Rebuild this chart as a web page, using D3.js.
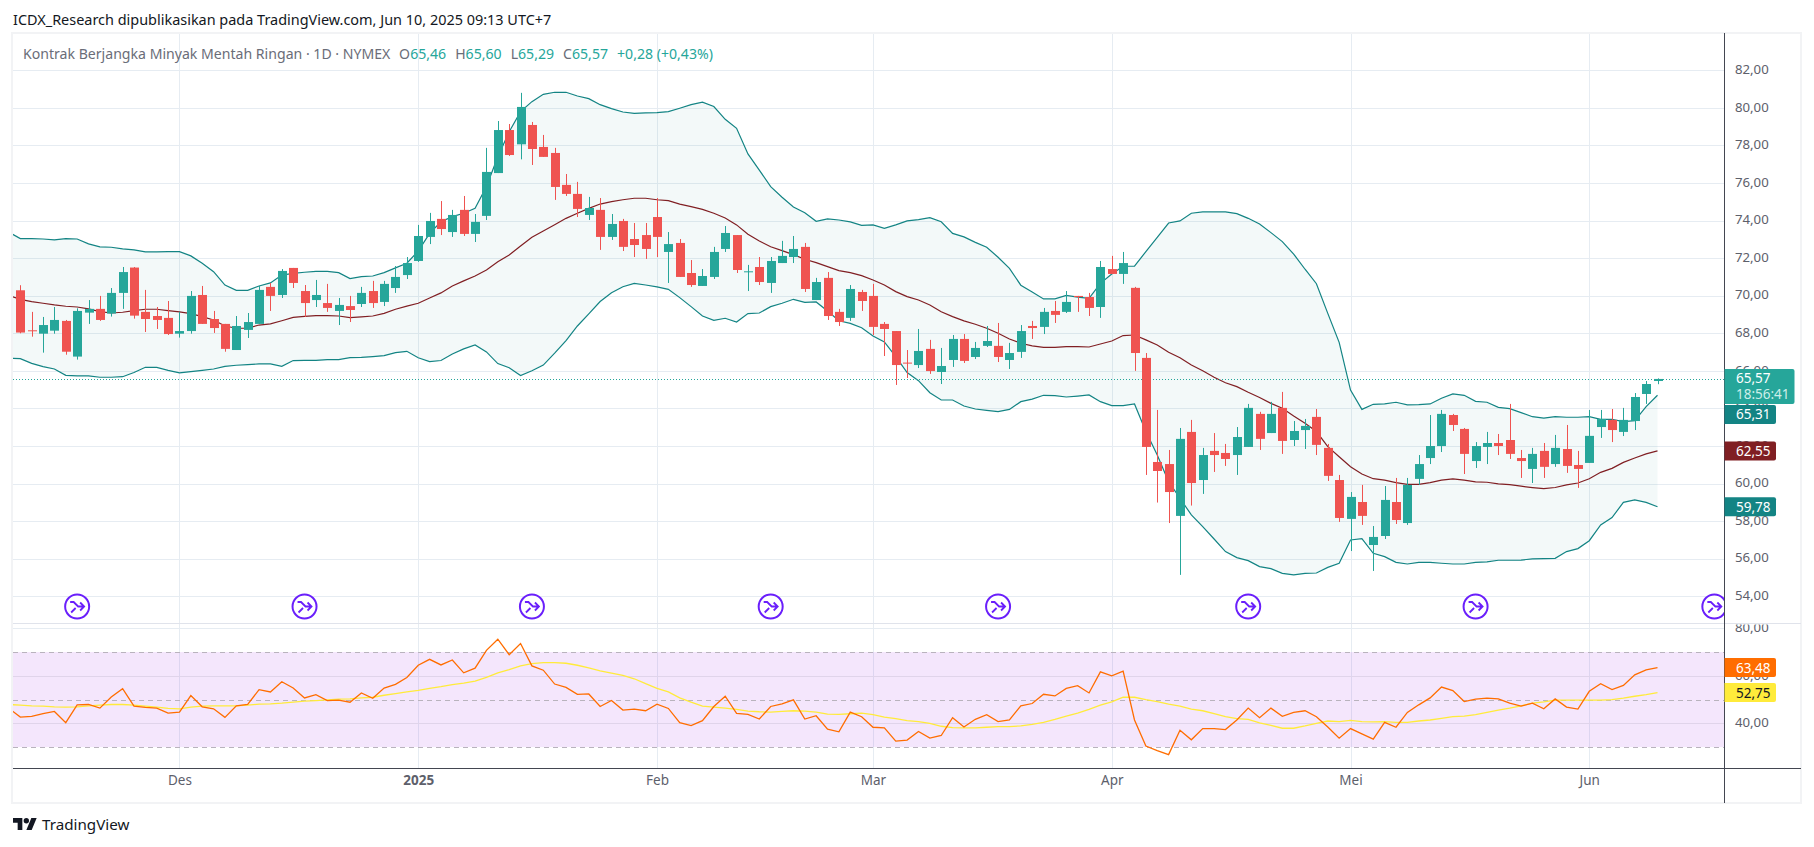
<!DOCTYPE html>
<html>
<head>
<meta charset="utf-8">
<title>Kontrak Berjangka Minyak Mentah Ringan</title>
<script src="https://cdn.jsdelivr.net/npm/d3@7"></script>
<style>
  html, body { margin: 0; padding: 0; background: #fff; }
  svg { display: block; }
  text { font-family: "Noto Sans", Roboto, sans-serif; }
</style>
</head>
<body>
<div id="chart"></div>
<script>
// Daily candles (index 0 = first visible bar)
const opens = [
  70.29,68.16,67.98,68.14,68.66,66.76,69.10,69.30,69.05,70.15,
  71.50,69.14,68.92,68.82,67.98,68.12,70.04,68.76,68.50,67.11,
  68.18,68.50,70.47,70.04,71.48,70.25,69.77,69.61,69.19,69.45,
  69.56,70.25,69.67,70.41,71.10,71.85,73.13,74.09,73.39,74.57,
  73.29,74.25,76.53,78.82,78.06,79.09,77.92,77.60,75.90,75.42,
  74.30,74.57,73.13,73.98,73.02,73.23,74.19,72.33,72.81,71.21,
  70.52,71.00,72.49,73.23,71.28,71.53,70.68,71.74,72.06,72.60,
  69.77,70.95,69.14,68.82,70.20,69.99,68.50,68.12,66.44,66.31,
  67.17,65.94,66.58,67.70,66.74,67.33,67.33,66.58,67.01,68.39,
  68.34,69.19,69.14,69.99,69.93,69.40,71.42,71.16,70.42,66.69,
  61.15,61.04,58.28,62.75,60.19,61.74,61.63,61.52,61.95,63.71,
  62.69,64.03,62.32,62.85,63.55,61.90,60.19,58.12,59.02,56.73,
  57.21,59.02,57.90,60.25,61.36,62.00,63.65,62.91,61.20,61.95,
  62.16,62.32,61.36,60.78,61.74,61.04,61.84,60.99,61.10,63.01,
  63.39,62.75,63.33,64.77,65.46
];
const highs = [
  70.56,69.14,68.87,69.40,68.71,69.33,69.77,69.99,70.41,71.53,
  71.53,70.31,69.40,69.72,69.14,70.25,70.52,69.19,68.50,68.92,
  69.08,70.52,70.68,71.42,71.48,70.57,70.84,70.63,69.88,69.99,
  70.47,70.79,70.79,71.58,72.06,73.77,74.41,75.04,74.57,75.31,
  74.35,77.87,79.30,79.14,80.80,79.25,78.56,77.87,76.48,76.06,
  75.26,75.20,74.35,74.09,73.87,73.87,75.20,73.39,73.02,71.90,
  71.42,72.60,73.71,73.23,71.64,72.06,72.06,72.92,73.18,72.81,
  70.95,71.26,69.30,70.57,70.31,70.63,68.60,68.12,67.11,68.23,
  67.65,67.22,67.91,67.96,67.54,68.39,68.55,67.49,68.44,68.66,
  69.35,69.72,70.25,69.99,70.15,71.85,72.12,72.33,70.47,66.95,
  63.92,61.79,62.96,63.39,61.90,62.69,62.11,63.01,64.24,63.82,
  64.35,64.88,63.33,63.44,63.97,62.11,60.46,59.55,59.93,57.74,
  59.87,60.30,60.30,61.52,63.65,63.92,63.71,62.96,62.21,62.75,
  62.64,64.24,61.79,61.90,62.16,62.59,63.12,61.74,63.92,63.92,
  63.97,64.03,64.82,65.46,65.60
];
const lows = [
  68.00,67.82,66.97,67.98,66.86,66.60,68.50,68.66,68.89,69.30,
  68.78,68.07,68.23,67.91,67.77,67.98,68.50,68.02,67.02,67.11,
  67.75,68.50,69.19,69.88,70.41,68.87,69.40,69.14,68.44,68.60,
  69.40,69.35,69.45,70.15,70.89,71.80,72.75,73.23,73.13,73.18,
  72.86,74.03,76.53,77.44,77.26,76.96,77.39,75.10,75.31,74.19,
  74.03,72.44,72.97,72.38,72.06,71.96,72.06,70.68,71.00,70.47,
  70.52,70.89,72.33,71.21,70.25,70.57,70.15,71.74,71.74,70.20,
  69.77,68.71,68.39,68.66,69.19,67.91,66.79,65.25,65.62,66.15,
  65.84,65.30,66.21,66.42,66.63,67.27,66.47,66.10,66.69,67.70,
  67.96,68.55,69.08,69.14,68.92,68.82,71.16,70.63,66.00,60.46,
  58.99,57.90,55.14,58.83,59.45,60.62,60.94,60.46,61.95,61.79,
  62.69,61.58,62.00,61.84,61.52,60.14,57.96,56.41,57.80,55.35,
  57.05,57.85,57.80,59.93,61.04,61.68,62.80,60.51,60.83,61.04,
  61.52,61.31,60.30,60.03,60.30,60.89,60.57,59.77,61.10,62.43,
  62.21,62.53,62.85,64.24,65.29
];
const closes = [
  68.04,68.14,68.44,68.71,67.02,69.19,69.30,68.71,70.15,71.26,
  68.94,68.76,68.71,67.96,68.12,69.99,68.50,68.28,67.17,68.39,
  68.60,70.31,69.99,71.32,70.68,69.61,70.04,69.35,69.51,69.24,
  70.15,69.61,70.63,71.00,71.74,73.18,73.98,73.55,74.30,73.29,
  73.93,76.59,78.82,77.49,80.05,77.81,77.39,75.79,75.42,74.62,
  74.67,73.13,73.82,72.60,72.70,72.49,73.13,72.75,71.00,70.57,
  71.05,72.33,73.34,71.37,71.30,70.73,71.85,72.12,72.49,70.36,
  70.73,68.92,68.60,70.36,69.72,68.34,68.23,66.31,66.42,67.06,
  65.99,66.26,67.70,66.53,67.22,67.59,66.74,66.95,68.12,68.28,
  69.14,68.98,69.67,69.93,69.35,71.53,71.16,71.74,66.95,61.95,
  60.67,59.55,62.38,60.03,61.52,61.52,61.31,62.48,64.03,62.38,
  63.71,62.27,62.80,63.07,62.06,60.41,58.17,59.29,58.28,57.16,
  59.13,58.06,59.93,61.04,62.00,63.71,63.12,61.58,62.00,62.16,
  62.00,61.58,61.20,61.58,60.89,61.90,60.94,60.78,62.54,63.44,
  62.85,63.39,64.61,65.30,65.57
];

// Bollinger bands and RSI start one bar before the first candle
const indicatorFirstBar = -1;
const bbUpper = [
  73.38,73.04,73.04,73.02,72.97,73.04,73.02,72.76,72.60,72.58,
  72.49,72.44,72.33,72.33,72.35,72.35,72.12,71.73,71.28,70.57,
  70.29,70.29,70.52,70.68,71.10,71.19,71.25,71.30,71.30,71.23,
  70.91,71.02,71.05,71.23,71.48,71.73,72.38,73.32,73.94,74.21,
  74.39,74.65,75.81,77.40,78.73,79.80,80.33,80.72,80.83,80.83,
  80.63,80.49,80.17,79.96,79.78,79.71,79.73,79.75,79.80,79.98,
  80.17,80.30,80.07,79.39,78.91,77.55,76.69,75.81,75.24,74.72,
  74.42,73.96,74.09,74.03,73.93,73.75,73.77,73.59,73.77,73.98,
  74.05,74.16,73.94,73.32,73.13,72.84,72.58,72.05,71.46,70.56,
  70.20,69.83,69.83,70.02,69.93,69.86,70.66,71.16,71.57,71.57,
  72.35,73.11,73.87,73.98,74.39,74.46,74.46,74.46,74.37,74.12,
  73.82,73.36,72.88,72.22,71.41,70.64,69.06,67.52,64.98,63.95,
  64.22,64.24,64.33,64.19,64.20,64.24,64.54,64.77,64.70,64.38,
  64.33,64.06,63.99,63.78,63.56,63.48,63.56,63.53,63.53,63.56,
  63.42,63.42,63.30,63.35,64.10,64.70
];
const bbBasis = [
  70.02,69.81,69.69,69.60,69.51,69.44,69.40,69.30,69.15,69.08,
  69.12,69.21,69.28,69.28,69.21,69.14,69.05,68.89,68.71,68.39,
  68.27,68.27,68.44,68.50,68.67,68.85,68.90,68.94,68.94,68.92,
  68.83,68.87,68.92,69.06,69.28,69.45,69.60,69.88,70.15,70.52,
  70.79,71.05,71.37,71.81,72.17,72.65,73.11,73.45,73.78,74.12,
  74.39,74.65,74.88,75.01,75.11,75.19,75.19,75.11,75.06,74.88,
  74.74,74.60,74.39,74.14,73.77,73.27,72.91,72.61,72.40,72.19,
  71.94,71.76,71.55,71.34,71.23,71.07,70.84,70.57,70.22,69.95,
  69.77,69.51,69.15,68.89,68.66,68.48,68.27,68.00,67.70,67.47,
  67.33,67.25,67.25,67.29,67.29,67.27,67.43,67.59,67.88,67.91,
  67.65,67.38,66.99,66.70,66.31,66.01,65.66,65.37,65.16,64.86,
  64.58,64.27,64.01,63.60,63.21,62.77,61.97,61.43,60.90,60.51,
  60.26,60.18,60.05,59.96,59.96,60.05,60.18,60.25,60.18,60.09,
  60.07,59.98,59.94,59.86,59.79,59.73,59.79,59.93,60.03,60.26,
  60.60,60.81,61.13,61.36,61.58,61.74
];
const bbLower = [
  66.67,66.65,66.40,66.23,66.10,65.76,65.73,65.73,65.66,65.66,
  65.69,65.91,66.19,66.19,66.03,65.89,65.96,66.03,66.10,66.24,
  66.30,66.33,66.37,66.37,66.24,66.55,66.56,66.56,66.60,66.60,
  66.70,66.72,66.76,66.81,66.97,67.04,66.70,66.49,66.55,66.90,
  67.17,67.38,67.01,66.39,66.17,65.75,66.01,66.31,66.94,67.61,
  68.39,69.03,69.69,70.16,70.48,70.66,70.57,70.47,70.34,69.90,
  69.42,68.92,68.69,68.80,68.60,69.05,69.08,69.42,69.60,69.81,
  69.65,69.67,69.19,68.67,68.53,68.30,67.86,67.54,66.76,65.91,
  65.48,64.84,64.45,64.45,64.13,63.97,63.90,63.83,63.95,64.36,
  64.50,64.70,64.68,64.61,64.66,64.72,64.36,64.15,64.15,64.24,
  62.77,61.52,60.10,59.22,58.33,57.71,57.05,56.38,56.06,55.90,
  55.58,55.47,55.22,55.14,55.22,55.24,55.54,55.76,57.00,57.07,
  56.29,56.11,55.81,55.72,55.81,55.81,55.76,55.72,55.72,55.81,
  55.83,55.92,55.92,55.93,55.99,56.01,56.02,56.38,56.54,56.96,
  57.80,58.19,59.00,59.13,59.00,58.77
];
const rsiValues = [
  46.25,42.64,42.92,44.03,45.00,40.28,47.78,47.92,46.39,51.11,
  54.58,47.22,46.67,46.39,44.31,44.72,51.67,46.94,46.11,42.50,
  47.36,47.92,54.17,53.19,57.50,54.86,50.69,52.08,49.58,49.72,
  48.89,52.78,50.56,54.86,56.39,59.31,64.44,66.94,64.58,66.67,
  61.25,63.19,70.69,75.42,68.89,73.61,64.17,62.36,56.53,55.14,
  52.22,52.36,47.08,49.58,45.56,45.97,45.28,48.06,46.25,40.28,
  39.03,41.11,47.08,51.39,44.17,43.75,41.81,47.08,48.19,49.86,
  41.81,43.19,37.50,36.39,44.72,42.78,38.33,38.06,32.50,32.92,
  36.53,33.75,34.86,42.36,38.47,41.67,43.61,40.69,41.39,47.36,
  48.33,52.22,51.53,54.72,55.83,52.78,61.67,60.00,61.94,41.39,
  30.42,28.47,26.81,37.08,33.06,37.78,37.78,37.36,41.39,46.39,
  42.36,46.39,42.92,44.58,45.28,42.78,38.47,33.75,37.78,35.56,
  33.33,40.42,38.33,44.58,47.78,50.69,55.28,53.75,49.17,50.14,
  50.56,50.28,48.47,47.22,48.47,46.11,50.28,46.81,45.97,53.47,
  56.67,54.17,55.97,60.42,62.50,63.48
];
const rsiMa = [
  47.92,47.64,47.36,47.22,46.94,46.81,46.94,47.36,47.64,47.92,
  47.92,47.64,47.22,46.81,46.25,46.11,46.81,47.22,47.36,47.36,
  47.36,47.64,48.06,48.19,48.47,48.89,49.31,49.58,49.86,50.14,
  50.28,50.69,50.97,51.81,52.50,53.19,53.89,54.72,55.42,56.25,
  56.94,57.78,59.31,61.25,62.64,64.17,65.14,65.56,65.56,65.28,
  64.44,63.33,62.08,61.11,60.14,58.75,56.67,54.72,53.19,50.69,
  48.89,47.22,46.81,46.39,45.83,45.14,44.86,44.72,45.00,45.28,
  45.14,44.72,43.89,43.75,44.03,44.31,43.61,42.64,41.94,41.11,
  40.69,40.00,38.75,38.19,38.06,38.06,38.33,38.61,38.61,38.89,
  39.58,40.42,41.67,43.06,44.31,45.83,47.64,49.03,50.97,50.97,
  50.00,49.17,48.06,47.22,45.97,45.28,44.03,42.78,41.94,41.67,
  40.14,39.17,37.92,37.92,38.89,40.00,40.97,40.69,41.25,40.69,
  40.56,40.69,40.42,40.42,40.97,41.39,42.08,42.78,43.06,43.61,
  44.58,45.56,46.39,47.36,48.47,49.03,49.72,49.72,49.72,49.72,
  49.72,50.00,50.56,51.39,52.08,52.92
];

const priceTicks = [82, 80, 78, 76, 74, 72, 70, 68, 66, 64, 62, 60, 58, 56, 54];
const rsiTicks = [80, 60, 40];
const rsiBands = [70, 50, 30];
const monthBars = [14, 35, 56, 75, 96, 117, 138];
const monthLabels = ['Des', '2025', 'Feb', 'Mar', 'Apr', 'Mei', 'Jun'];
const rolloverBars = [5, 25, 45, 66, 86, 108, 128, 149];

const headerText = 'ICDX_Research dipublikasikan pada TradingView.com, Jun 10, 2025 09:13 UTC+7';
const legendTitle = 'Kontrak Berjangka Minyak Mentah Ringan · 1D · NYMEX';
const legendOhlc = [['O', '65,46'], ['H', '65,60'], ['L', '65,29'], ['C', '65,57']];
const legendChange = '+0,28 (+0,43%)';
const countdownText = '18:56:41';
const bbLabels = ['65,31', '62,55', '59,78'];
const rsiLabels = ['63,48', '52,75'];
const closeLabel = '65,57';

const up = '#26a69a', down = '#ef5350';
const bandTeal = '#138484', basisRed = '#801f23';
const gridColor = '#e6ecf2', axisColor = '#434651', textColor = '#5d606b';
const purple = '#6a1ffb';

const width = 1814, height = 847;
const paneLeft = 13, paneRight = 1724.5, paneTop = 34, paneSplit = 623.5, paneBottom = 768.5, frameRight = 1801, frameBottom = 803;

const x = d3.scaleLinear().domain([0, 144]).range([20.3, 1657.5]);
const y = d3.scaleLinear().domain([54, 82]).range([596.3, 70.3]);
const yRsi = d3.scaleLinear().domain([40, 80]).range([723.3, 628.3]);
const crisp = v => Math.round(v) + 0.5;
const fmt = v => v.toFixed(2).replace('.', ',');

const svg = d3.select('#chart').append('svg').attr('width', width).attr('height', height);
const defs = svg.append('defs');
defs.append('clipPath').attr('id', 'clip-price').append('rect')
  .attr('x', paneLeft).attr('y', paneTop).attr('width', paneRight - paneLeft).attr('height', paneSplit - paneTop);
defs.append('clipPath').attr('id', 'clip-rsi').append('rect')
  .attr('x', paneLeft).attr('y', paneSplit).attr('width', paneRight - paneLeft).attr('height', paneBottom - paneSplit);
defs.append('clipPath').attr('id', 'clip-rsi-axis').append('rect')
  .attr('x', paneRight).attr('y', paneSplit + 1).attr('width', frameRight - paneRight).attr('height', paneBottom - paneSplit);

// header
svg.append('text').attr('x', 13).attr('y', 25).attr('font-size', 14.45).attr('fill', '#131722').text(headerText);

// outer frame
svg.append('rect').attr('x', 12).attr('y', 33).attr('width', frameRight - 12).attr('height', frameBottom - 33)
  .attr('fill', 'none').attr('stroke', '#f2f3f5').attr('stroke-width', 2);

// grid
const grid = svg.append('g');
grid.selectAll('.hp').data(priceTicks).join('line')
  .attr('x1', paneLeft).attr('x2', paneRight)
  .attr('y1', d => crisp(y(d))).attr('y2', d => crisp(y(d)))
  .attr('stroke', gridColor);
grid.selectAll('.vg').data(monthBars).join('line')
  .attr('class', 'vg')
  .attr('x1', d => crisp(x(d))).attr('x2', d => crisp(x(d)))
  .attr('y1', paneTop).attr('y2', paneBottom)
  .attr('stroke', gridColor);

// price pane
const price = svg.append('g').attr('clip-path', 'url(#clip-price)');
const barOf = i => i + indicatorFirstBar;
const bandArea = d3.area().x((d, i) => x(barOf(i))).y0((d, i) => y(bbLower[i])).y1(d => y(d));
price.append('path').attr('d', bandArea(bbUpper)).attr('fill', bandTeal).attr('fill-opacity', 0.05);

const bandLine = d3.line().x((d, i) => x(barOf(i))).y(d => y(d));
[[bbUpper, bandTeal], [bbLower, bandTeal], [bbBasis, basisRed]].forEach(([values, color]) => {
  price.append('path').attr('d', bandLine(values)).attr('fill', 'none')
    .attr('stroke', color).attr('stroke-width', 1.2);
});

// last price line
price.append('line').attr('x1', paneLeft).attr('x2', paneRight)
  .attr('y1', crisp(y(closes[144]))).attr('y2', crisp(y(closes[144])))
  .attr('stroke', up).attr('stroke-dasharray', '1 2');

const bars = d3.range(closes.length);
price.append('g').selectAll('line').data(bars).join('line')
  .attr('x1', i => crisp(x(i))).attr('x2', i => crisp(x(i)))
  .attr('y1', i => y(highs[i])).attr('y2', i => y(lows[i]))
  .attr('stroke', i => closes[i] >= opens[i] ? up : down);
price.append('g').selectAll('rect').data(bars).join('rect')
  .attr('x', i => crisp(x(i)) - 4.5).attr('width', 9)
  .attr('y', i => y(Math.max(opens[i], closes[i])))
  .attr('height', i => Math.max(1, Math.abs(y(opens[i]) - y(closes[i]))))
  .attr('fill', i => closes[i] >= opens[i] ? up : down);

// contract rollover markers
const markers = price.append('g').selectAll('g').data(rolloverBars).join('g')
  .attr('transform', d => `translate(${x(d)},606.5)`);
markers.append('circle').attr('r', 12).attr('fill', '#fff').attr('stroke', purple).attr('stroke-width', 2);
markers.append('path').attr('d', 'M-7,-4.5H-3.5L1,0H7M3,-4L7,0L3,4M-6,6L-1.5,1.5')
  .attr('fill', 'none').attr('stroke', purple).attr('stroke-width', 1.8);

// RSI pane
const rsi = svg.append('g').attr('clip-path', 'url(#clip-rsi)');
rsi.append('rect').attr('x', paneLeft).attr('width', paneRight - paneLeft)
  .attr('y', yRsi(70)).attr('height', yRsi(30) - yRsi(70))
  .attr('fill', '#9105e1').attr('fill-opacity', 0.1);
rsi.selectAll('.rg').data(rsiTicks).join('line').attr('class', 'rg')
  .attr('x1', paneLeft).attr('x2', paneRight)
  .attr('y1', d => crisp(yRsi(d))).attr('y2', d => crisp(yRsi(d)))
  .attr('stroke', d => d === 80 ? gridColor : '#e0d4ea');
rsi.selectAll('.rb').data(rsiBands).join('line').attr('class', 'rb')
  .attr('x1', paneLeft).attr('x2', paneRight)
  .attr('y1', d => crisp(yRsi(d))).attr('y2', d => crisp(yRsi(d)))
  .attr('stroke', '#b9b3bd').attr('stroke-dasharray', '5 4');
const rsiLine = d3.line().x((d, i) => x(barOf(i))).y(d => yRsi(d));
rsi.append('path').attr('d', rsiLine(rsiMa)).attr('fill', 'none').attr('stroke', '#ffeb3b').attr('stroke-width', 1.3);
rsi.append('path').attr('d', rsiLine(rsiValues)).attr('fill', 'none').attr('stroke', '#ff6d00').attr('stroke-width', 1.3);

// axis lines
svg.append('line').attr('x1', paneLeft).attr('x2', frameRight).attr('y1', paneSplit).attr('y2', paneSplit).attr('stroke', '#e0e3eb');
svg.append('line').attr('x1', paneLeft).attr('x2', frameRight).attr('y1', paneBottom).attr('y2', paneBottom).attr('stroke', axisColor);
svg.append('line').attr('x1', paneRight).attr('x2', paneRight).attr('y1', 33).attr('y2', frameBottom).attr('stroke', axisColor);

// axes
function styleAxis(g) {
  g.select('.domain').remove();
  g.selectAll('.tick line').remove();
  g.selectAll('text').attr('font-family', '"Noto Sans", Roboto, sans-serif');
}
svg.append('g').attr('transform', 'translate(1735,-1)')
  .call(d3.axisRight(y).tickValues(priceTicks).tickFormat(fmt).tickSize(0).tickPadding(0))
  .call(styleAxis)
  .selectAll('text').attr('font-size', 13.2).attr('fill', textColor);
svg.append('g').attr('clip-path', 'url(#clip-rsi-axis)').append('g').attr('transform', 'translate(1735,-1)')
  .call(d3.axisRight(yRsi).tickValues(rsiTicks).tickFormat(fmt).tickSize(0).tickPadding(0))
  .call(styleAxis)
  .selectAll('text').attr('font-size', 13.2).attr('fill', textColor);
svg.append('g').attr('transform', 'translate(0,775)')
  .call(d3.axisBottom(x).tickValues(monthBars).tickFormat((d, i) => monthLabels[i]).tickSize(0).tickPadding(0))
  .call(styleAxis)
  .selectAll('text').attr('font-size', 13.5).attr('fill', textColor)
  .attr('font-weight', (d, i) => monthLabels[i] === '2025' ? 700 : 400);

// value tags on the price scale
function tag(top, h, w, color, lines) {
  const g = svg.append('g');
  g.append('path')
    .attr('d', `M${paneRight},${top}H${paneRight + w - 2}q2,0 2,2V${top + h - 2}q0,2 -2,2H${paneRight}Z`)
    .attr('fill', color);
  lines.forEach(l => {
    g.append('text').attr('x', 1736).attr('y', top + l.dy).attr('font-size', 13.5)
      .attr('fill', l.color).text(l.text);
  });
}
const closeTop = y(closes[144]) - 10;
tag(closeTop, 35, 70, up, [
  { text: closeLabel, dy: 14.5, color: '#fff' },
  { text: countdownText, dy: 30.5, color: '#cdeee9' }
]);
tag(closeTop + 36, 19, 51.5, bandTeal, [{ text: bbLabels[0], dy: 14.5, color: '#fff' }]);
tag(y(bbBasis[145]) - 9.5, 19, 51.5, basisRed, [{ text: bbLabels[1], dy: 14.5, color: '#fff' }]);
tag(y(bbLower[145]) - 9.5, 19, 51.5, bandTeal, [{ text: bbLabels[2], dy: 14.5, color: '#fff' }]);
tag(yRsi(rsiValues[145]) - 9.5, 19, 51.5, '#ff6d00', [{ text: rsiLabels[0], dy: 14.5, color: '#fff' }]);
tag(yRsi(rsiMa[145]) - 9.5, 19, 51.5, '#ffeb3b', [{ text: rsiLabels[1], dy: 14.5, color: '#131722' }]);

// legend
const legend = svg.append('text').attr('x', 23).attr('y', 59).attr('font-size', 14.1).attr('fill', '#6a6d78');
legend.append('tspan').text(legendTitle);
legendOhlc.forEach(([k, v], i) => {
  legend.append('tspan').attr('dx', 9).text(k);
  legend.append('tspan').attr('fill', up).text(v);
});
legend.append('tspan').attr('dx', 9).attr('fill', up).text(legendChange);

// TradingView wordmark
svg.append('g').attr('transform', 'translate(13,815.4) scale(0.667)').call(g => {
  g.append('path').attr('d', 'M14 22H7V11H0V4h14v18zM28 22h-8l7.5-18h8L28 22z').attr('fill', '#131722');
  g.append('circle').attr('cx', 20).attr('cy', 8).attr('r', 4).attr('fill', '#131722');
});
svg.append('text').attr('x', 42).attr('y', 830).attr('font-size', 15.2).attr('fill', '#131722').text('TradingView');
</script>
</body>
</html>
